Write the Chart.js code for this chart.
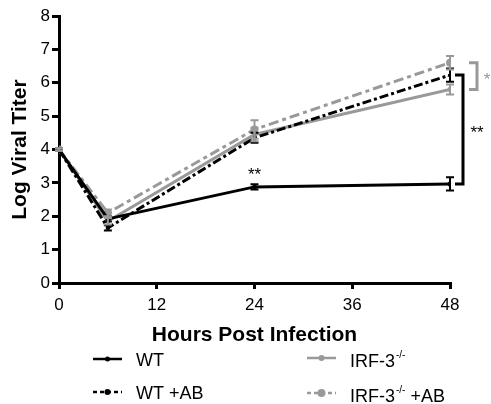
<!DOCTYPE html>
<html>
<head>
<meta charset="utf-8">
<script src="https://cdn.jsdelivr.net/npm/chart.js@4"></script>
<style>
  body { margin: 0; background: #fff; }
  #wrap { width: 491px; height: 404px; }
</style>
</head>
<body>
<div id="wrap"><canvas id="titerChart" width="491" height="404"></canvas></div>
<script>
// ------------------ Data ------------------
const hours = [0, 6, 24, 48];
const wt = [4.0, 1.92, 2.88, 2.97];
const wtErr = [0.04, 0.08, 0.08, 0.2];
const wtAB = [4.0, 1.65, 4.35, 6.23];
const wtABErr = [0.04, 0.08, 0.15, 0.2];
const irf = [4.0, 1.85, 4.45, 5.8];
const irfErr = [0.04, 0.1, 0.2, 0.15];
const irfAB = [4.0, 2.1, 4.6, 6.6];
const irfABErr = [0.04, 0.1, 0.28, 0.2];
const xTicks = [0, 12, 24, 36, 48];
const yTicks = [0, 1, 2, 3, 4, 5, 6, 7, 8];

const BLACK = "#000";
const GRAY = "#999";
const FONT = "'Liberation Sans', Arial, sans-serif";

const toPts = (vals) => hours.map((h, i) => ({ x: h, y: vals[i] }));

const series = [
  { label: "WT", data: wt, err: wtErr, color: BLACK, dash: [], style: "circle", r: 2.5 },
  { label: "WT +AB", data: wtAB, err: wtABErr, color: BLACK, dash: [9, 3, 3, 3], style: "triangle", r: 3 },
  { label: "IRF-3", data: irf, err: irfErr, color: GRAY, dash: [], style: "rect", r: 3 },
  { label: "IRF-3 +AB", data: irfAB, err: irfABErr, color: GRAY, dash: [10, 4, 4, 4], style: "circle", r: 4 }
];

// error bars drawn through the scales
const errorBars = {
  id: "errorBars",
  afterDatasetsDraw(chart) {
    const { ctx, scales: { x, y } } = chart;
    ctx.save();
    series.forEach(s => {
      ctx.strokeStyle = s.color;
      ctx.lineWidth = 2;
      ctx.setLineDash([]);
      s.data.forEach((v, i) => {
        const px = x.getPixelForValue(hours[i]);
        const top = y.getPixelForValue(v + s.err[i]);
        const bot = y.getPixelForValue(v - s.err[i]);
        ctx.beginPath();
        ctx.moveTo(px, top); ctx.lineTo(px, bot);
        ctx.moveTo(px - 4, top); ctx.lineTo(px + 4, top);
        ctx.moveTo(px - 4, bot); ctx.lineTo(px + 4, bot);
        ctx.stroke();
      });
    });
    ctx.restore();
  }
};

// significance brackets + stars, plus the legend underneath
const annotations = {
  id: "annotations",
  afterDraw(chart) {
    const { ctx, chartArea, scales: { x, y } } = chart;
    const last = hours.length - 1;
    ctx.save();
    ctx.setLineDash([]);
    ctx.lineWidth = 3;

    // black bracket WT+AB vs WT at 48h
    const bx = chartArea.right + 13;
    const bTop = y.getPixelForValue(wtAB[last]);
    const bBot = y.getPixelForValue(wt[last]);
    ctx.strokeStyle = BLACK;
    ctx.beginPath();
    ctx.moveTo(bx - 8, bTop); ctx.lineTo(bx, bTop); ctx.lineTo(bx, bBot); ctx.lineTo(bx - 8, bBot);
    ctx.stroke();

    // gray bracket IRF+AB vs IRF at 48h
    const gx = chartArea.right + 27;
    const gTop = y.getPixelForValue(irfAB[last]);
    const gBot = y.getPixelForValue(irf[last]);
    ctx.strokeStyle = GRAY;
    ctx.beginPath();
    ctx.moveTo(gx - 8, gTop); ctx.lineTo(gx, gTop); ctx.lineTo(gx, gBot); ctx.lineTo(gx - 8, gBot);
    ctx.stroke();

    ctx.textAlign = "center";
    ctx.textBaseline = "middle";
    ctx.font = "17px " + FONT;
    ctx.fillStyle = BLACK;
    ctx.fillText("**", bx + 14, (bTop + bBot) / 2 + 4);
    ctx.fillText("**", x.getPixelForValue(24), y.getPixelForValue(wt[2]) - 12);
    ctx.fillStyle = GRAY;
    ctx.fillText("*", gx + 10, (gTop + gBot) / 2 + 4);

    // legend
    const items = [
      { s: series[0], x: 93, y: 359 },
      { s: series[1], x: 93, y: 392 },
      { s: series[2], x: 307, y: 358 },
      { s: series[3], x: 307, y: 393 }
    ];
    items.forEach(({ s, x: lx, y: ly }) => {
      ctx.strokeStyle = s.color;
      ctx.fillStyle = s.color;
      ctx.lineWidth = 2.5;
      ctx.setLineDash(s.dash.length ? [4, 3] : []);
      ctx.beginPath();
      ctx.moveTo(lx, ly); ctx.lineTo(lx + 29, ly);
      ctx.stroke();
      ctx.setLineDash([]);
      ctx.beginPath();
      ctx.arc(lx + 14.5, ly, s.r, 0, Math.PI * 2);
      ctx.fill();

      ctx.textAlign = "left";
      ctx.textBaseline = "alphabetic";
      ctx.fillStyle = BLACK;
      ctx.font = "18px " + FONT;
      let tx = lx + 43;
      const base = ly + 7;
      if (s.label.startsWith("IRF-3")) {
        ctx.fillText("IRF-3", tx, base + 2);
        tx += ctx.measureText("IRF-3").width + 1;
        ctx.font = "10px " + FONT;
        ctx.fillText("-/-", tx, base - 7);
        tx += ctx.measureText("-/-").width + 5;
        ctx.font = "18px " + FONT;
        if (s.label.endsWith("+AB")) ctx.fillText("+AB", tx, base + 2);
      } else {
        ctx.fillText(s.label, tx, base);
      }
    });
    ctx.restore();
  }
};

new Chart(document.getElementById("titerChart"), {
  type: "line",
  data: {
    datasets: series.map(s => ({
      label: s.label,
      data: toPts(s.data),
      borderColor: s.color,
      backgroundColor: s.color,
      borderWidth: 3,
      borderDash: s.dash,
      pointStyle: s.style,
      pointRadius: s.r,
      pointBorderWidth: 0,
      tension: 0,
      fill: false
    }))
  },
  options: {
    responsive: false,
    animation: false,
    layout: { padding: { top: 16, right: 41, bottom: 56, left: 0 } },
    plugins: {
      legend: { display: false },
      tooltip: { enabled: false }
    },
    scales: {
      x: {
        type: "linear",
        min: 0,
        max: 48,
        afterBuildTicks: (axis) => { axis.ticks = xTicks.map(v => ({ value: v })); },
        afterFit: (axis) => { axis.height = 65; },
        border: { color: BLACK, width: 3 },
        grid: { drawOnChartArea: false, color: BLACK, lineWidth: 3, tickLength: 6 },
        ticks: { color: BLACK, font: { family: FONT, size: 17 }, padding: 6, maxRotation: 0 },
        title: { display: true, text: "Hours Post Infection", color: BLACK, font: { family: FONT, size: 21, weight: "bold" }, padding: { top: 5, bottom: 0 } }
      },
      y: {
        min: 0,
        max: 8,
        afterBuildTicks: (axis) => { axis.ticks = yTicks.map(v => ({ value: v })); },
        afterFit: (axis) => { axis.width = 59; },
        border: { color: BLACK, width: 3 },
        grid: { drawOnChartArea: false, color: BLACK, lineWidth: 3, tickLength: 7 },
        ticks: { color: BLACK, font: { family: FONT, size: 17 }, padding: 2 },
        title: { display: true, text: "Log Viral Titer", color: BLACK, font: { family: FONT, size: 21, weight: "bold" }, padding: { top: 8, bottom: 2 } }
      }
    }
  },
  plugins: [errorBars, annotations]
});
</script>
</body>
</html>
